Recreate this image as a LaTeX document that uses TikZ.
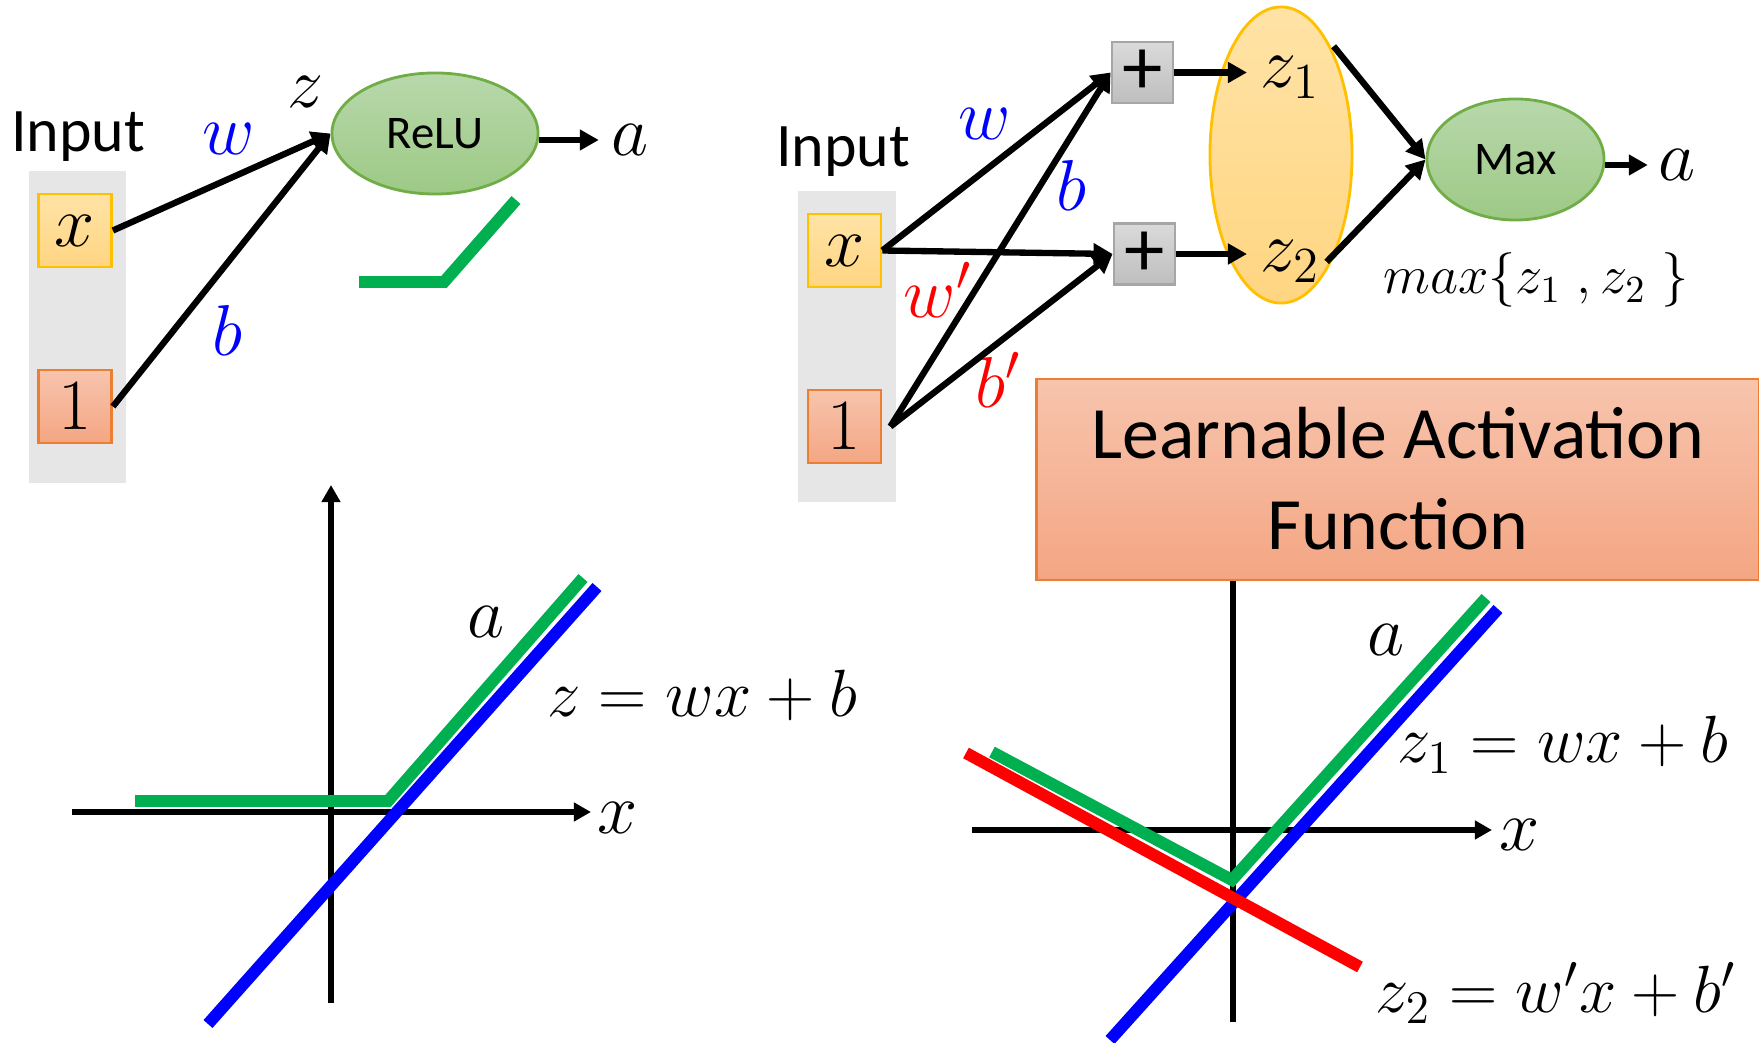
\RequirePackage{fix-cm}
\documentclass[tikz,border=0pt]{standalone}
\usepackage[no-math]{fontspec}
\setmainfont{Carlito}
\usetikzlibrary{arrows.meta,shapes.geometric}
\definecolor{bgg}{HTML}{E7E6E6}
\definecolor{yla}{HTML}{FFE3A6}
\definecolor{ylz}{HTML}{FFD581}
\definecolor{ylb}{HTML}{FFC000}
\definecolor{ora}{HTML}{F7C4AD}
\definecolor{orz}{HTML}{F4A683}
\definecolor{orb}{HTML}{ED7D31}
\definecolor{gra}{HTML}{B8D8AB}
\definecolor{grz}{HTML}{9DC985}
\definecolor{grb}{HTML}{70AD47}
\definecolor{pla}{HTML}{DADADA}
\definecolor{plz}{HTML}{BEBEBE}
\definecolor{plb}{HTML}{A6A6A6}
\definecolor{lgrn}{HTML}{00B050}
\definecolor{lblu}{HTML}{0000FF}
\definecolor{lred}{HTML}{FF0000}
\tikzset{
  conn/.style={line width=1.8pt, -{Triangle[length=0.19cm,width=0.2cm]}},
  axisline/.style={line width=1.7pt, -{Triangle[length=0.17cm,width=0.18cm]}},
  plainaxis/.style={line width=1.7pt},
  curve/.style={line width=3.4pt},
  mth/.style={font=\fontsize{20.5}{24}\selectfont, inner sep=0pt},
  eqn/.style={font=\fontsize{19}{23}\selectfont, inner sep=0pt},
  bgbox/.style={fill=bgg, inner sep=0pt, minimum width=0.97cm},
  ybox/.style={draw=ylb, line width=0.8pt, top color=yla, bottom color=ylz, inner sep=0pt,
     minimum width=0.73cm, minimum height=0.73cm, font=\fontsize{20.5}{24}\selectfont},
  obox/.style={draw=orb, line width=0.8pt, top color=ora, bottom color=orz, inner sep=0pt,
     minimum width=0.73cm, minimum height=0.73cm, font=\fontsize{20.5}{24}\selectfont},
  gell/.style={ellipse, draw=grb, line width=0.8pt, top color=gra, bottom color=grz, inner sep=0pt,
     font=\fontsize{13.3}{16}\selectfont},
  pbox/.style={draw=plb, line width=0.8pt, top color=pla, bottom color=plz, inner sep=0pt,
     minimum width=0.61cm, minimum height=0.61cm, font=\fontsize{23}{25}\selectfont},
  inlabel/.style={anchor=base, inner sep=0pt, font=\fontsize{17.6}{20}\selectfont},
  bigtxt/.style={anchor=base, inner sep=0pt, font=\fontsize{21}{25}\selectfont},
}
\begin{document}
\begin{tikzpicture}[x=0.01cm, y=-0.01cm]
\useasboundingbox (0,0) rectangle (1759,1043);

% ---------- top left: ReLU neuron ----------
\node[bgbox, minimum height=3.12cm] (bgL) at (77.5,327) {};
\node[ybox] (xL) at (75,230.5) {$x$};
\node[obox] (oneL) at (75,406.5) {$1$};
\node[inlabel] (inL) at (78,152) {Input};
\node[gell, minimum width=2.06cm, minimum height=1.21cm] (relu) at (435,133.5) {ReLU};
\node[mth] (zL) at (306,92) {$z$};
\node[mth, text=lblu] (wL) at (229,139) {$w$};
\node[mth, text=lblu] (bL) at (228,330) {$b$};
\node[mth] (aL) at (630,140) {$a$};
\draw[conn] (xL.east) -- (relu.west);
\draw[conn] (oneL.east) -- (relu.west);
\draw[conn] (relu.east |- aL.west) -- ([xshift=-0.12cm]aL.west);
\coordinate (ic1) at (359,282);
\coordinate (ic2) at (444,282);
\coordinate (ic3) at (516,200);
\draw[curve, lgrn] (ic1) -- (ic2) -- (ic3);

% ---------- bottom left: ReLU graph ----------
\coordinate (v1b) at (331,1003);
\coordinate (v1t) at (331,485);
\coordinate (h1l) at (72,812);
\coordinate (h1r) at (591,812);
\draw[axisline] (v1b) -- (v1t);
\draw[axisline] (h1l) -- (h1r);
\node[mth] (x1) at (618,818) {$x$};
\coordinate (bl1) at (208,1024);
\coordinate (bl2) at (597,587);
\draw[curve, lblu] (bl1) -- (bl2);
\coordinate (g1) at (135,801);
\coordinate (g2) at (388,801);
\coordinate (g3) at (583,578);
\draw[curve, lgrn] (g1) -- (g2) -- (g3);
\node[mth] (a1) at (486,622) {$a$};
\node[eqn, anchor=base] (eq0) at (702,717) {$z = wx + b$};

% ---------- top right: maxout neuron ----------
\node[bgbox, minimum height=3.11cm] (bgR) at (847,346.5) {};
\node[ybox] (xR) at (844.5,250.5) {$x$};
\node[obox] (oneR) at (844.5,426.5) {$1$};
\node[inlabel] (inR) at (843,167) {Input};
\node[pbox] (p1) at (1142.5,72.5) {+};
\node[pbox] (p2) at (1144.5,254) {+};
\node[ellipse, draw=ylb, line width=0.8pt, top color=yla, bottom color=ylz,
      minimum width=1.42cm, minimum height=2.96cm, inner sep=0pt] (zz) at (1281,155) {};
\node[mth, anchor=base west] (z1) at (1260,88) {$z_1$};
\node[mth, anchor=base west] (z2) at (1260,272) {$z_2$};
\node[gell, minimum width=1.77cm, minimum height=1.21cm] (mx) at (1515.5,159.5) {Max};
\node[mth] (aR) at (1677,165) {$a$};
\node[anchor=base, inner sep=0pt, font=\fontsize{15.5}{16}\selectfont] (mxl) at (1536,294) {$max\Bigl\{z_1\;,z_2\;\Bigr\}$};
\node[mth, text=lblu] (wR) at (985,124) {$w$};
\node[mth, text=lblu] (bR) at (1072,185) {$b$};
\node[mth, text=lred] (wpR) at (938,290) {$w'$};
\node[mth, text=lred] (bpR) at (998,380) {$b'$};
\draw[conn] (xR.east) -- (p1.west);
\draw[conn] (xR.east) -- (p2.west);
\draw[conn] ([xshift=0.08cm]oneR.east) -- (p1.west);
\draw[conn] ([xshift=0.08cm]oneR.east) -- (p2.west);
\draw[conn] (p1.east) -- ([xshift=-0.13cm]p1.east -| z1.west);
\draw[conn] (p2.east) -- ([xshift=-0.13cm]p2.east -| z2.west);
\draw[conn] ([shift={(0.13cm,0.1cm)}]z1.north east) -- (mx.west);
\draw[conn] ([xshift=0.06cm]z2.east) -- (mx.west);
\draw[conn] (mx.east |- aR.west) -- ([xshift=-0.1cm]aR.west);

% ---------- Learnable Activation Function box ----------
\node[draw=orb, line width=0.8pt, top color=ora, bottom color=orz,
      minimum width=7.22cm, minimum height=2.01cm, inner sep=0pt] (laf) at (1398,479.5) {};
\node[bigtxt] (laf1) at (1398,459) {Learnable Activation};
\node[bigtxt] (laf2) at (1398,550) {Function};

% ---------- bottom right: maxout graph ----------
\coordinate (v2b) at (1233,1022);
\coordinate (h2l) at (972,830);
\coordinate (h2r) at (1492,830);
\draw[plainaxis] (laf.south -| v2b) -- (v2b);
\draw[axisline] (h2l) -- (h2r);
\node[mth] (x2) at (1520,835) {$x$};
\coordinate (b2a) at (1110,1040);
\coordinate (b2b) at (1498,609);
\draw[curve, lblu] (b2a) -- (b2b);
\coordinate (r2a) at (966,753);
\coordinate (r2b) at (1360,967);
\draw[curve, lred] (r2a) -- (r2b);
\coordinate (g4) at (992,752);
\coordinate (g5) at (1232,880);
\coordinate (g6) at (1486,598);
\draw[curve, lgrn] (g4) -- (g5) -- (g6);
\node[mth] (a2) at (1386,640) {$a$};
\node[eqn, anchor=base] (eq1) at (1563,763) {$z_1 = wx + b$};
\node[eqn, anchor=base] (eq2) at (1556,1013) {$z_2 = w'x + b'$};
\end{tikzpicture}
\end{document}
